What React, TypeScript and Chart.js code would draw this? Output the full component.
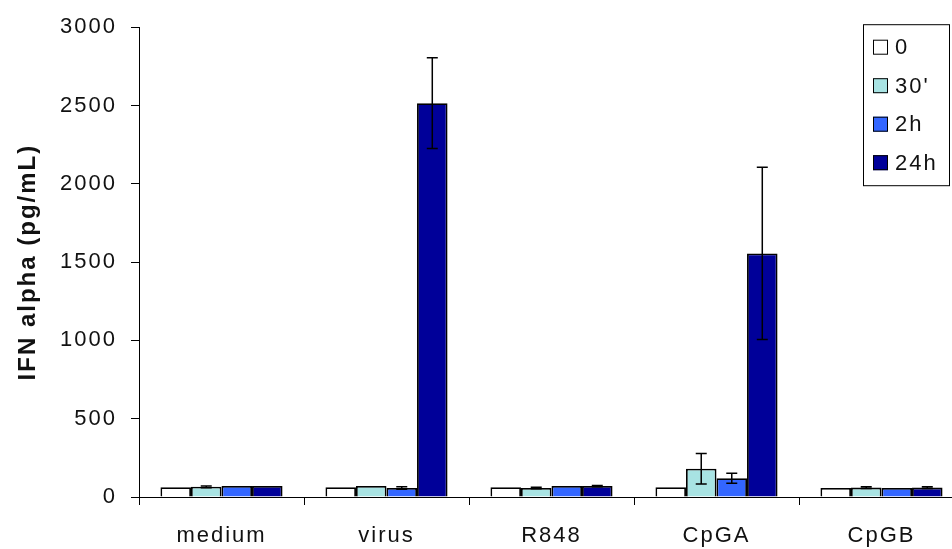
import React, { useEffect, useRef } from 'react';
import { Chart, registerables } from 'chart.js';

Chart.register(...registerables);

const categories = ['medium', 'virus', 'R848', 'CpGA', 'CpGB'];
const seriesLabels = ['0', "30'", '2h', '24h'];
const seriesColors = ['#FFFFFF', '#A8E3E3', '#3366FF', '#000099'];

const values0 = [63, 63, 63, 63, 58];
const values30 = [65, 70, 57, 180, 60];
const values2h = [70, 57, 70, 120, 58];
const values24h = [70, 2515, 70, 1555, 60];

const errors0 = [0, 0, 0, 0, 0];
const errors30 = [6, 0, 5, 97, 6];
const errors2h = [0, 8, 0, 32, 0];
const errors24h = [0, 290, 4, 550, 6];

const yMin = 0;
const yMax = 3000;
const yStep = 500;
const yAxisTitle = 'IFN alpha (pg/mL)';

const seriesValues = [values0, values30, values2h, values24h];
const seriesErrors = [errors0, errors30, errors2h, errors24h];

const FONT = "'Liberation Sans', Arial, sans-serif";
const TEXT = '#111111';

export default function App() {
  const ref = useRef<HTMLCanvasElement>(null);

  useEffect(() => {
    const canvas = ref.current;
    if (!canvas) return;

    const spacing = {
      id: 'spacing',
      beforeUpdate(c: any) {
        c.ctx.letterSpacing = '2px';
      },
      beforeDraw(c: any) {
        c.ctx.letterSpacing = '2px';
      },
    };

    const errorBars = {
      id: 'errorBars',
      afterDatasetsDraw(c: any) {
        const ctx = c.ctx;
        const yScale = c.scales.y;
        ctx.save();
        ctx.strokeStyle = '#000';
        ctx.lineWidth = 1.5;
        seriesValues.forEach((vals, i) => {
          const meta = c.getDatasetMeta(i);
          meta.data.forEach((el: any, j: number) => {
            const err = seriesErrors[i][j];
            if (!err) return;
            const x = el.x;
            const yT = yScale.getPixelForValue(vals[j] + err);
            const yB = yScale.getPixelForValue(vals[j] - err);
            const cap = 5.5;
            ctx.beginPath();
            ctx.moveTo(x, yT);
            ctx.lineTo(x, yB);
            ctx.moveTo(x - cap, yT);
            ctx.lineTo(x + cap, yT);
            ctx.moveTo(x - cap, yB);
            ctx.lineTo(x + cap, yB);
            ctx.stroke();
          });
        });
        ctx.restore();
      },
    };

    const legendBox = {
      id: 'legendBox',
      afterDraw(c: any) {
        const ctx = c.ctx;
        const area = c.chartArea;
        const w = 86;
        const h = 161;
        const left = area.right - 15 - w;
        const top = area.top - 3;
        ctx.save();
        ctx.letterSpacing = '2px';
        ctx.fillStyle = '#fff';
        ctx.fillRect(left, top, w, h);
        ctx.strokeStyle = '#000';
        ctx.lineWidth = 1;
        ctx.strokeRect(left + 0.5, top + 0.5, w, h);
        ctx.font = `22px ${FONT}`;
        ctx.textBaseline = 'middle';
        ctx.textAlign = 'left';
        seriesLabels.forEach((lab, i) => {
          const cy = top + 23 + i * 38.5;
          ctx.fillStyle = seriesColors[i];
          ctx.fillRect(left + 10, cy - 7.5, 15, 15);
          ctx.strokeStyle = '#000';
          ctx.lineWidth = 1;
          ctx.strokeRect(left + 10.5, cy - 7, 14, 14);
          ctx.fillStyle = TEXT;
          ctx.fillText(lab, left + 32, cy + 1);
        });
        ctx.restore();
      },
    };

    const chart = new Chart(canvas, {
      type: 'bar',
      data: {
        labels: categories,
        datasets: seriesLabels.map((lab, i) => ({
          label: lab,
          data: seriesValues[i],
          backgroundColor: seriesColors[i],
          borderColor: '#000',
          borderWidth: 1.8,
          categoryPercentage: 0.74,
          barPercentage: 1.0,
        })),
      },
      options: {
        responsive: false,
        animation: false,
        devicePixelRatio: 1,
        layout: { padding: { top: 22, right: 0, bottom: 0, left: 0 } },
        plugins: {
          legend: { display: false },
          tooltip: { enabled: false },
        },
        scales: {
          x: {
            grid: {
              offset: true,
              drawOnChartArea: false,
              tickLength: 8,
              color: '#000',
              lineWidth: 1,
            },
            border: { color: '#000', width: 1 },
            ticks: {
              font: { size: 22, family: FONT },
              color: TEXT,
              padding: 18,
              maxRotation: 0,
              autoSkip: false,
            },
            afterFit(s: any) {
              s.height = 52;
            },
          },
          y: {
            min: yMin,
            max: yMax,
            ticks: {
              stepSize: yStep,
              font: { size: 22, family: FONT },
              color: TEXT,
              padding: 14,
              callback: (v: any) => String(v),
            },
            grid: {
              drawOnChartArea: false,
              tickLength: 8,
              color: '#000',
              lineWidth: 1,
            },
            border: { color: '#000', width: 1 },
            title: {
              display: true,
              text: yAxisTitle,
              font: { size: 24, weight: 'bold', family: FONT },
              color: TEXT,
              padding: { top: 14, bottom: 0 },
            },
            afterFit(s: any) {
              s.width = 139;
            },
          },
        },
      },
      plugins: [spacing, errorBars, legendBox],
    } as any);

    return () => chart.destroy();
  }, []);

  return (
    <div
      style={{
        position: 'fixed',
        left: 0,
        top: 0,
        width: 952,
        height: 549,
        overflow: 'hidden',
        background: '#fff',
      }}
    >
      <canvas ref={ref} width={964} height={549} style={{ display: 'block' }} />
    </div>
  );
}
